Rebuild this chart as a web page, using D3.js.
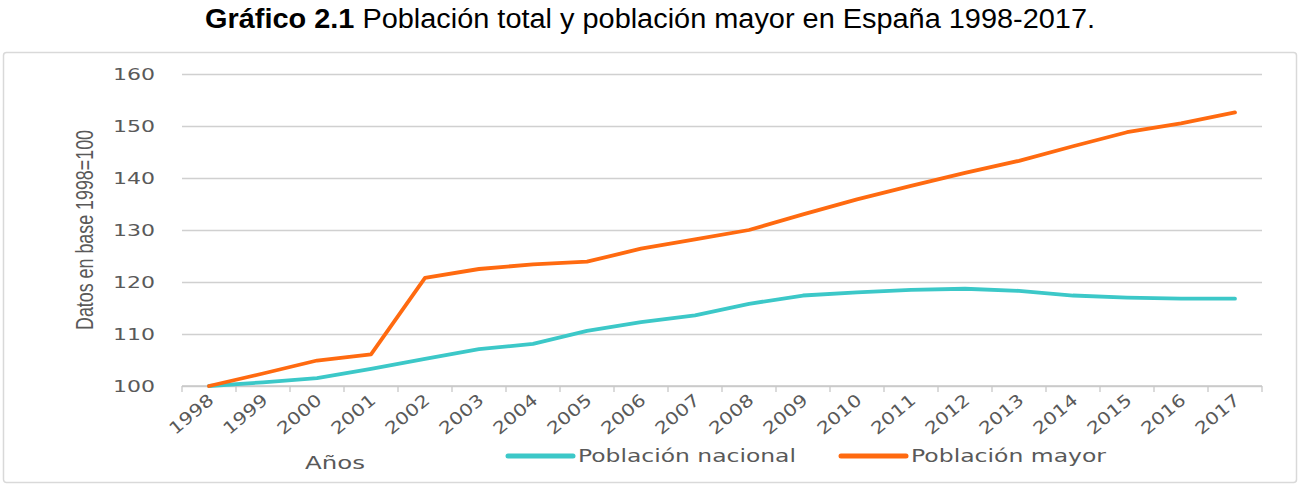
<!DOCTYPE html>
<html>
<head>
<meta charset="utf-8">
<script src="https://cdn.jsdelivr.net/npm/d3@7.9.0/dist/d3.min.js"></script>
<style>
  body { margin: 0; background: #fff; }
  svg { display: block; }
</style>
</head>
<body>
<div id="chart"></div>
<script>
// data (index, base 1998 = 100)
const years = ['1998','1999','2000','2001','2002','2003','2004','2005','2006','2007',
               '2008','2009','2010','2011','2012','2013','2014','2015','2016','2017'];
const nacional = [100, 100.7, 101.5, 103.3, 105.2, 107.1, 108.1, 110.6, 112.3, 113.6,
                  115.8, 117.4, 118.0, 118.5, 118.7, 118.3, 117.4, 117.0, 116.8, 116.8];
const mayor = [100, 102.4, 104.9, 106.1, 120.8, 122.5, 123.4, 123.9, 126.4, 128.2,
               130.0, 133.0, 135.9, 138.5, 141.0, 143.3, 146.1, 148.8, 150.5, 152.6];
const yTicks = [100, 110, 120, 130, 140, 150, 160];
const seriesNames = ['Población nacional', 'Población mayor'];

const width = 1301, height = 485;
const margin = { top: 74, right: 39, bottom: 99, left: 182 };
const tickFont = 'DejaVu Sans, Verdana, sans-serif';
const gray = '#595959';

const svg = d3.select('#chart').append('svg')
  .attr('width', width).attr('height', height);

// outer frame
svg.append('rect')
  .attr('x', 3.5).attr('y', 52.5)
  .attr('width', 1293).attr('height', 430)
  .attr('rx', 3)
  .attr('fill', '#fff').attr('stroke', '#d9d9d9').attr('stroke-width', 1.5);

// title
const title = svg.append('text')
  .attr('x', 650).attr('y', 28)
  .attr('text-anchor', 'middle')
  .attr('font-family', 'Liberation Sans, Arial, sans-serif')
  .attr('font-size', 27)
  .attr('fill', '#000')
  .attr('textLength', 890).attr('lengthAdjust', 'spacingAndGlyphs');
title.append('tspan').attr('font-weight', 'bold').text('Gráfico 2.1');
title.append('tspan').text(' Población total y población mayor en España 1998-2017.');

const x = d3.scaleBand()
  .domain(years)
  .range([margin.left, width - margin.right]);

const y = d3.scaleLinear()
  .domain([100, 160])
  .range([height - margin.bottom, margin.top]);

// gridlines
svg.append('g')
  .attr('class', 'gridlines')
  .attr('transform', `translate(${margin.left}, 0)`)
  .call(d3.axisLeft(y).tickValues(yTicks).tickFormat('').tickSize(-(width - margin.left - margin.right)))
  .call(g => g.select('.domain').remove())
  .call(g => g.selectAll('line').attr('stroke', '#d0d0d0').attr('stroke-width', 1.3));

// y tick labels
svg.append('g')
  .selectAll('text')
  .data(yTicks)
  .join('text')
  .attr('x', 155)
  .attr('y', d => y(d) + 6)
  .attr('text-anchor', 'end')
  .attr('font-family', tickFont)
  .attr('font-size', 16)
  .attr('fill', gray)
  .attr('textLength', 42).attr('lengthAdjust', 'spacingAndGlyphs')
  .text(d => d);

// x axis line with ticks at category boundaries
const boundaries = years.map(d => x(d)).concat([x.range()[1]]);
const xAxisG = svg.append('g');
xAxisG.append('line')
  .attr('x1', x.range()[0]).attr('x2', x.range()[1])
  .attr('y1', y(100)).attr('y2', y(100))
  .attr('stroke', '#c8c8c8').attr('stroke-width', 1.3);
xAxisG.selectAll('line.tick')
  .data(boundaries)
  .join('line')
  .attr('class', 'tick')
  .attr('x1', d => d).attr('x2', d => d)
  .attr('y1', y(100)).attr('y2', y(100) + 6)
  .attr('stroke', '#c8c8c8').attr('stroke-width', 1.3);

// x tick labels, rotated
xAxisG.selectAll('text')
  .data(years)
  .join('text')
  .attr('transform', d => `translate(${x(d) + x.bandwidth() / 2 + 6}, 402) rotate(-40)`)
  .attr('text-anchor', 'end')
  .attr('font-family', tickFont)
  .attr('font-size', 17)
  .attr('fill', gray)
  .attr('textLength', 52).attr('lengthAdjust', 'spacingAndGlyphs')
  .text(d => d);

// axis titles
svg.append('text')
  .attr('transform', 'translate(93, 230) rotate(-90)')
  .attr('text-anchor', 'middle')
  .attr('font-family', 'Liberation Sans Narrow, Liberation Sans, Arial, sans-serif')
  .attr('font-size', 23)
  .attr('fill', gray)
  .attr('textLength', 200).attr('lengthAdjust', 'spacingAndGlyphs')
  .text('Datos en base 1998=100');

svg.append('text')
  .attr('x', 335).attr('y', 469)
  .attr('text-anchor', 'middle')
  .attr('font-family', tickFont)
  .attr('font-size', 18)
  .attr('fill', gray)
  .attr('textLength', 60).attr('lengthAdjust', 'spacingAndGlyphs')
  .text('Años');

// lines
const colors = ['#3cc8c8', '#ff6a10'];
const line = d3.line()
  .x((d, i) => x(years[i]) + x.bandwidth() / 2)
  .y(d => y(d));

svg.append('g')
  .selectAll('path')
  .data([nacional, mayor])
  .join('path')
  .attr('d', line)
  .attr('fill', 'none')
  .attr('stroke', (d, i) => colors[i])
  .attr('stroke-width', 3.8)
  .attr('stroke-linejoin', 'round')
  .attr('stroke-linecap', 'round');

// legend
const legendItems = [
  { name: seriesNames[0], color: colors[0], x0: 508, len: 218 },
  { name: seriesNames[1], color: colors[1], x0: 841, len: 195 }
];
const legend = svg.append('g');
const item = legend.selectAll('g')
  .data(legendItems)
  .join('g')
  .attr('transform', d => `translate(${d.x0}, 456)`);
item.append('line')
  .attr('x1', 0).attr('x2', 65)
  .attr('stroke', d => d.color)
  .attr('stroke-width', 5)
  .attr('stroke-linecap', 'round');
item.append('text')
  .attr('x', 70).attr('y', 6)
  .attr('font-family', tickFont)
  .attr('font-size', 17)
  .attr('fill', gray)
  .attr('textLength', d => d.len).attr('lengthAdjust', 'spacingAndGlyphs')
  .text(d => d.name);
</script>
</body>
</html>
